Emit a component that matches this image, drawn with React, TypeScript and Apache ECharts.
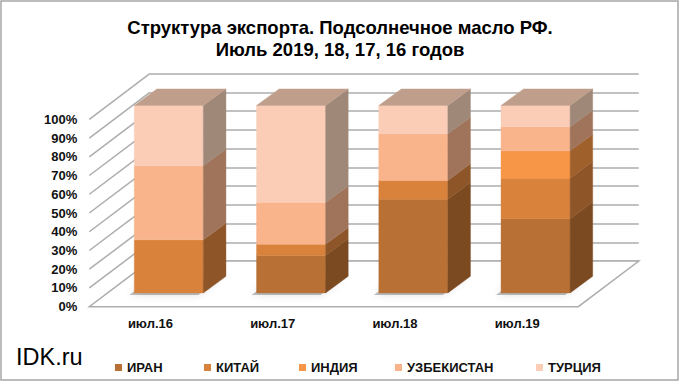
import React, { useEffect, useRef } from "react";
import * as echarts from "echarts";

// ---- data ----
const CATEGORIES = ["июл.16", "июл.17", "июл.18", "июл.19"];
const SERIES_NAMES = ["ИРАН", "КИТАЙ", "ИНДИЯ", "УЗБЕКИСТАН", "ТУРЦИЯ"];
const IRAN = [0, 20, 50, 39.6];
const CHINA = [28.3, 5.9, 10, 21.6];
const INDIA = [0, 0, 0, 14.6];
const UZBEKISTAN = [39.6, 22.3, 24.9, 12.8];
const TURKEY = [32.1, 51.8, 15.1, 11.4];
const Y_TICKS = [0, 10, 20, 30, 40, 50, 60, 70, 80, 90, 100];
const TITLE = "Структура экспорта. Подсолнечное масло РФ.\nИюль 2019, 18, 17, 16 годов";
const WATERMARK = "IDK.ru";

// ---- styles / layout ----
const FRONT_COLORS = ["#B97034", "#D9823C", "#F79646", "#F9B48C", "#FBCDB6"];
const SIDE_COLORS = ["#7B4A21", "#8E5528", "#A0602C", "#A0745A", "#A08878"];
const TOP_COLOR = "#BF9F8B";
const GRID_COLOR = "#ADADAD";
const FONT = "'Liberation Sans', Arial, sans-serif";

const FRONT = { left: 89.3, top: 119.3, right: 578.3, bottom: 306.7 };
const DEPTH = { x: 60.5, y: -45.6 };
const BAR_SHIFT = { x: 18.4, y: -13.8 };
const BAR_DEPTH = { x: 22.6, y: -16.6 };
const BAR_WIDTH_RATIO = 0.565;
const LEGEND_X = [110, 199, 294, 390, 531];

const SERIES_VALUES = [IRAN, CHINA, INDIA, UZBEKISTAN, TURKEY];

export default function App() {
  const ref = useRef<HTMLDivElement>(null);
  useEffect(() => {
    if (!ref.current) return;
    const chart = echarts.init(ref.current, null, { renderer: "svg" });
    const W = FRONT.right - FRONT.left;
    const H = FRONT.bottom - FRONT.top;

    // stacking
    const bases: number[][] = [];
    const topIdx: number[] = CATEGORIES.map((_, c) => {
      let t = -1;
      SERIES_VALUES.forEach((vals, s) => {
        if (vals[c] > 0) t = s;
      });
      return t;
    });
    const running = CATEGORIES.map(() => 0);
    SERIES_VALUES.forEach((vals, s) => {
      bases[s] = vals.map((v, c) => {
        const b = running[c];
        running[c] += v;
        return b;
      });
    });

    const barSeries = SERIES_VALUES.map((vals, s) => ({
      type: "custom",
      name: SERIES_NAMES[s],
      xAxisIndex: 0,
      yAxisIndex: 0,
      z: 5 + s,
      itemStyle: { color: FRONT_COLORS[s] },
      data: vals.map((v, c) => [c, bases[s][c], v, topIdx[c] === s ? 1 : 0]),
      renderItem: (params: any, api: any) => {
        const c = api.value(0);
        const base = api.value(1);
        const val = api.value(2);
        const isTop = api.value(3) === 1;
        if (!(val > 0)) return null;
        const pB = api.coord([c, base]);
        const pT = api.coord([c, base + val]);
        const w = api.size([1, 0])[0] * BAR_WIDTH_RATIO;
        const x0 = pB[0] - w / 2 + BAR_SHIFT.x;
        const x1 = x0 + w;
        const yB = pB[1] + BAR_SHIFT.y;
        const yT = pT[1] + BAR_SHIFT.y;
        const children: any[] = [
          {
            type: "polygon",
            shape: { points: [[x0, yB], [x1, yB], [x1, yT], [x0, yT]] },
            style: { fill: FRONT_COLORS[s], stroke: FRONT_COLORS[s], lineWidth: 0.4 },
          },
          {
            type: "polygon",
            shape: {
              points: [
                [x1, yB],
                [x1 + BAR_DEPTH.x, yB + BAR_DEPTH.y],
                [x1 + BAR_DEPTH.x, yT + BAR_DEPTH.y],
                [x1, yT],
              ],
            },
            style: { fill: SIDE_COLORS[s], stroke: SIDE_COLORS[s], lineWidth: 0.4 },
          },
        ];
        if (isTop) {
          children.push({
            type: "polygon",
            shape: {
              points: [
                [x0, yT],
                [x1, yT],
                [x1 + BAR_DEPTH.x, yT + BAR_DEPTH.y],
                [x0 + BAR_DEPTH.x, yT + BAR_DEPTH.y],
              ],
            },
            style: { fill: TOP_COLOR, stroke: TOP_COLOR, lineWidth: 0.4 },
          });
        }
        return { type: "group", children };
      },
    }));

    const floorSeries = {
      type: "custom",
      name: "floor",
      xAxisIndex: 0,
      yAxisIndex: 0,
      z: 1,
      silent: true,
      data: Y_TICKS.map((v) => [0, v]),
      renderItem: (params: any, api: any) => {
        const cs = params.coordSys;
        const v = api.value(1);
        const y = api.coord([0, v])[1];
        const children: any[] = [];
        if (v === 0) {
          children.push({
            type: "polygon",
            shape: {
              points: [
                [cs.x, y],
                [cs.x + cs.width, y],
                [cs.x + cs.width + DEPTH.x, y + DEPTH.y],
                [cs.x + DEPTH.x, y + DEPTH.y],
              ],
            },
            style: { fill: "#FFFFFF", stroke: GRID_COLOR, lineWidth: 1.5 },
          });
        } else {
          children.push({
            type: "line",
            shape: { x1: cs.x, y1: y, x2: cs.x + DEPTH.x, y2: y + DEPTH.y },
            style: { stroke: GRID_COLOR, lineWidth: 1.5 },
          });
        }
        return { type: "group", children };
      },
    };

    const shadowSeries = {
      type: "custom",
      name: "shadow",
      xAxisIndex: 0,
      yAxisIndex: 0,
      z: 2,
      silent: true,
      data: CATEGORIES.map((_, c) => [c, 0]),
      renderItem: (params: any, api: any) => {
        const c = api.value(0);
        const pB = api.coord([c, 0]);
        const w = api.size([1, 0])[0] * BAR_WIDTH_RATIO;
        const x0 = pB[0] - w / 2 + BAR_SHIFT.x - 5;
        const x1 = x0 + w;
        const yB = pB[1] + BAR_SHIFT.y + 2;
        return {
          type: "polygon",
          shape: {
            points: [
              [x0, yB],
              [x1, yB],
              [x1 + BAR_DEPTH.x, yB + BAR_DEPTH.y],
              [x0 + BAR_DEPTH.x, yB + BAR_DEPTH.y],
            ],
          },
          style: {
            fill: "rgba(0,0,0,0.25)",
            shadowBlur: 8,
            shadowColor: "rgba(0,0,0,0.45)",
          },
        };
      },
    };

    const legends = SERIES_NAMES.map((n, i) => ({
      data: [n],
      left: LEGEND_X[i],
      top: 356,
      icon: "rect",
      itemWidth: 7,
      itemHeight: 7,
      itemGap: 6,
      selectedMode: false,
      textStyle: { fontFamily: FONT, fontWeight: "bold", fontSize: 13, color: "#111", padding: [0, 0, 0, 0] },
    }));

    chart.setOption({
      animation: false,
      backgroundColor: "#FFFFFF",
      title: {
        text: TITLE,
        left: "center",
        top: 11,
        textStyle: { fontFamily: FONT, fontWeight: "bold", fontSize: 18.5, lineHeight: 22.5, color: "#000" },
      },
      legend: legends,
      grid: [
        { left: FRONT.left, top: FRONT.top, width: W, height: H },
        { left: FRONT.left + DEPTH.x, top: FRONT.top + DEPTH.y, width: W, height: H },
      ],
      xAxis: [
        {
          type: "category",
          gridIndex: 0,
          data: CATEGORIES,
          axisLine: { show: false },
          axisTick: { show: false },
          axisLabel: { fontFamily: FONT, fontWeight: "bold", fontSize: 13, color: "#111", margin: 10 },
        },
        { type: "category", gridIndex: 1, data: CATEGORIES, show: false },
      ],
      yAxis: [
        {
          type: "value",
          gridIndex: 0,
          min: 0,
          max: 100,
          interval: 10,
          axisLine: { show: false },
          axisTick: { show: false },
          splitLine: { show: false },
          axisLabel: { formatter: "{value}%", fontFamily: FONT, fontWeight: "bold", fontSize: 13, color: "#111", margin: 12, padding: [3, 0, 0, 0] },
        },
        {
          type: "value",
          gridIndex: 1,
          min: 0,
          max: 100,
          interval: 10,
          axisLine: { show: false },
          axisTick: { show: false },
          axisLabel: { show: false },
          splitLine: { show: true, lineStyle: { color: GRID_COLOR, width: 1.5 } },
        },
      ],
      graphic: [
        {
          type: "rect",
          shape: { x: 1, y: 1, width: 677, height: 379 },
          style: { fill: "none", stroke: "#A6A6A6", lineWidth: 1.5 },
          z: 0,
          silent: true,
        },
        {
          type: "text",
          left: 16,
          top: 345,
          style: { text: WATERMARK, fontFamily: FONT, fontSize: 23.5, fill: "#000" },
        },
      ],
      series: [floorSeries, shadowSeries, ...barSeries],
    });
    return () => chart.dispose();
  }, []);
  return (
    <div
      ref={ref}
      style={{ position: "absolute", left: 0, top: 0, width: 680, height: 385, background: "#fff" }}
    />
  );
}
